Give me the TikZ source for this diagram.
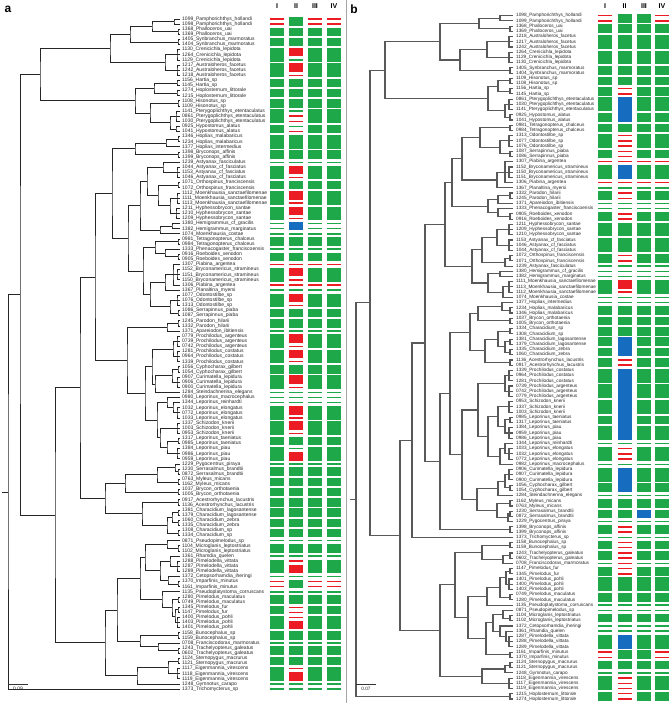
\documentclass[tikz,border=0pt]{standalone}
\usepackage{fontspec}
\setmainfont{Liberation Sans}
\usetikzlibrary{calc}
\definecolor{cG}{RGB}{30,168,74}
\definecolor{cR}{RGB}{236,28,36}
\definecolor{cU}{RGB}{22,108,190}
\newcount\rcnt
\newcommand\clade[4]{\coordinate (#1) at ($(#2,0 |- #3)!0.5!(#2,0 |- #4)$);\draw[tree] (#3) -| (#1) |- (#4);}
\newcommand\cladem[5]{\clade{#1}{#2}{#3}{#4}\foreach \mm in {#5}{\draw[tree] (#1 |- \mm) -- (\mm);}}
\newcommand\bars[4]{\global\rcnt=0\relax
 \foreach \ty/\co/\nn in #4{%
  \if\ty B\fill[c\co] (#1,{#2+(\the\rcnt-0.5)*#3+0.9}) rectangle ++(14,{\nn*#3-1.8});%
  \else\foreach \kk in {1,...,\nn}{\fill[c\co] (#1,{#2+(\the\rcnt+\kk-1)*#3-0.7}) rectangle ++(14,1.4);}\fi
  \global\advance\rcnt by \nn\relax}}
\def\aI{L/R/2,B/G/2,B/G/2,B/G/3,B/G/3,B/G/2,B/G/2,B/G/2,B/G/3,B/G/2,B/G/3,B/G/2,L/G/1,B/G/3,B/G/2,B/G/3,B/G/3,L/G/3,B/G/2,L/G/1,B/G/2,L/R/1,B/G/3,L/R/1,L/G/1,B/G/3,B/G/2,B/G/2,L/G/1,B/G/3,B/G/3,B/G/2,B/G/3,L/G/3,B/G/3,B/G/3,B/G/2,B/G/3,L/G/1,B/G/2,B/G/2,B/G/2,B/G/2,B/G/2,B/G/2,B/G/2,L/G/1,B/G/2,L/G/1,B/G/3,L/G/1,L/R/2,L/G/1,B/G/2,B/G/2,B/G/3,B/G/2,L/G/1,B/G/2,B/G/2,B/G/3,L/G/2}
\def\aII{B/G/2,B/G/2,B/G/2,B/R/2,L/G/1,B/R/2,L/R/1,B/G/2,B/G/2,B/G/2,L/G/1,L/R/2,L/G/1,L/R/1,B/G/3,B/G/2,L/G/1,B/R/2,L/R/1,B/G/2,B/R/2,L/R/1,B/R/2,L/R/1,B/U/2,L/G/1,B/G/2,L/G/1,B/G/2,L/R/1,B/R/2,L/R/1,L/R/1,L/G/1,B/R/2,L/R/1,B/G/2,B/G/2,L/G/1,B/R/2,L/R/1,B/R/2,L/R/1,B/G/2,B/R/2,L/R/1,L/G/3,B/R/2,L/R/1,B/R/2,L/R/1,B/G/2,L/G/1,B/R/2,L/G/1,B/G/2,B/G/2,B/G/2,B/G/2,B/G/2,B/G/2,B/G/2,L/G/1,B/G/2,L/G/1,L/R/1,B/R/2,L/G/1,B/G/2,L/G/1,B/G/2,L/R/2,L/R/1,B/R/2,B/G/2,L/G/1,B/G/2,B/G/2,L/R/1,B/R/2,L/G/2}
\def\bI{L/R/2,B/G/2,B/G/3,B/G/3,B/G/2,B/G/2,B/G/2,B/G/3,B/G/2,B/G/2,B/G/3,B/G/2,L/R/1,B/G/3,L/R/1,L/G/1,B/G/2,L/G/2,B/G/2,B/G/3,B/G/3,B/G/2,L/G/3,B/G/3,L/G/2,B/G/2,B/G/2,B/G/2,B/G/2,B/G/2,B/G/2,B/G/3,B/G/3,B/G/3,B/G/2,B/G/3,L/G/1,B/G/3,L/G/1,B/G/3,B/G/2,L/G/1,B/G/2,B/G/2,L/G/1,B/G/2,L/G/1,B/G/2,B/G/2,L/G/1,B/G/2,B/G/3,B/G/2,L/G/2,B/G/2,L/G/2,B/G/3,L/R/2,B/G/2,L/G/1,B/G/3,B/G/2}
\def\bII{B/G/2,B/G/2,B/G/3,B/G/3,B/G/2,B/G/2,L/R/2,B/U/5,B/G/2,L/R/3,L/R/2,L/R/1,B/U/3,L/R/1,L/G/1,L/R/2,L/G/2,L/R/2,B/G/3,B/G/3,L/R/2,L/G/3,B/R/2,L/R/1,L/G/2,B/G/2,B/G/2,B/G/2,B/U/4,L/R/2,B/U/14,L/G/1,L/R/3,L/G/1,B/U/5,L/G/1,B/G/2,B/G/2,L/G/1,L/R/2,L/G/1,L/R/2,L/R/2,L/R/1,L/R/2,B/G/3,B/G/2,L/G/2,B/G/2,L/G/2,B/U/3,B/G/2,B/G/2,L/G/1,L/R/3,L/R/2}
\def\bIII{B/G/2,B/G/2,B/G/3,B/G/3,B/G/2,B/G/2,B/G/2,B/G/3,B/G/2,B/G/2,B/G/3,B/G/2,L/R/1,B/G/3,L/R/1,L/G/1,B/G/2,L/G/2,B/G/2,B/G/3,B/G/3,B/G/2,L/G/3,B/G/3,L/G/2,B/G/2,B/G/2,B/G/2,B/G/2,B/G/2,B/G/2,B/G/3,B/G/3,B/G/3,B/G/2,B/G/3,L/G/1,B/G/3,L/G/1,B/G/3,B/G/2,L/G/1,B/G/2,B/U/2,L/G/1,B/G/2,L/G/1,B/G/2,B/G/2,L/G/1,B/G/2,B/G/3,B/G/2,L/G/2,B/G/2,L/G/2,B/G/3,B/G/2,B/G/2,L/G/1,B/G/3,B/G/2}
\begin{document}
\catcode`\_=12
\begin{tikzpicture}[x=1pt,y=-1pt,
  laba/.style={anchor=west,inner sep=0pt,text=black!85,font=\fontsize{5}{5}\selectfont},
  labb/.style={anchor=west,inner sep=0pt,text=black!85,font=\fontsize{4.7}{5}\selectfont},
  hdr/.style={inner sep=0pt,font=\bfseries\fontsize{7}{7}\selectfont},
  pnl/.style={inner sep=0pt,font=\bfseries\fontsize{12}{12}\selectfont}]
\useasboundingbox (0,0) rectangle (671,703);
\fill[white] (0,0) rectangle (671,703);
\draw[black!35,line width=0.6pt] (346,0) -- (346,703);
\foreach \i in {1,...,132}{\coordinate (a\i) at (180,{19+(\i-1)*5.115});\coordinate (b\i) at (513,{15.7+(\i-1)*5.216});}
% panel letters and headers
\node[pnl] (pa) at (8,9) {a};
\node[pnl] (pb) at (354,9) {b};
\foreach \t/\x in {I/277,II/296,III/315,IV/334}{\node[hdr] at (\x,6) {\t};}
\foreach \t/\x in {I/605,II/624.5,III/644,IV/662}{\node[hdr] at (\x,6) {\t};}
% ---------- panel a tree
\begin{scope}[tree/.style={draw=black!85,line width=0.8pt}]
\clade{A1}{174}{a1}{a2}\clade{A2}{178}{a3}{a4}\clade{A3}{152}{A1}{A2}\clade{A4}{178}{a5}{a6}
\clade{A5}{130}{A3}{A4}\cladem{A6}{177}{a7}{a9}{a8}\cladem{A7}{177}{a10}{a12}{a11}\clade{A8}{165}{A6}{A7}
\clade{A9}{110}{A5}{A8}
\clade{B1}{177}{a13}{a14}\clade{B2}{177}{a15}{a16}\clade{B3}{154}{B1}{B2}\clade{B4}{178}{a17}{a18}
\cladem{B5}{176}{a19}{a21}{a20}\clade{B6}{176}{a22}{a23}\clade{B7}{170}{B5}{B6}\clade{B8}{150}{B4}{B7}\clade{B9}{135}{B3}{B8}
\clade{C1}{178}{a24}{a25}\clade{C2}{166}{C1}{a26}\clade{C3}{178}{a27}{a28}\clade{C4}{135}{C2}{C3}
\cladem{D1}{177}{a30}{a32}{a31}\clade{D2}{163}{a29}{D1}\clade{D3}{178}{a33}{a34}\cladem{D4}{177}{a35}{a37}{a36}
\cladem{D5}{176}{a38}{a40}{a39}\clade{D6}{170}{D4}{D5}\clade{D7}{158}{D3}{D6}\clade{D8}{147}{D2}{D7}
\clade{D9}{172}{a41}{a42}\clade{D10}{160}{D9}{a43}\clade{D11}{140}{D8}{D10}
\clade{E1}{178}{a44}{a45}\clade{E2}{178}{a47}{a48}\clade{E3}{165}{a46}{E2}\clade{E4}{155}{E1}{E3}
\cladem{E5}{177}{a50}{a52}{a51}\cladem{E6}{173}{a49}{a53}{E5}\clade{E7}{165}{E6}{a54}
\cladem{E8}{177}{a55}{a57}{a56}\clade{E9}{178}{a58}{a59}\clade{E10}{170}{E8}{E9}\clade{E11}{150}{E7}{E10}
\clade{E12}{143}{E4}{E11}\clade{E13}{128}{D11}{E12}\clade{E14}{112}{C4}{E13}
\clade{F1}{178}{a60}{a61}\clade{F2}{167}{F1}{a62}\cladem{F3}{177}{a63}{a65}{a64}\cladem{F4}{177}{a66}{a68}{a67}
\clade{F5}{173}{F3}{F4}\clade{F6}{178}{a69}{a70}\cladem{F7}{177}{a71}{a73}{a72}\clade{F8}{172}{F6}{F7}
\clade{F9}{155}{F8}{a74}\clade{F10}{152}{F5}{F9}\cladem{F11}{177}{a77}{a79}{a78}\clade{F12}{173}{a76}{F11}
\clade{F13}{167}{a75}{F12}\cladem{F14}{177}{a80}{a82}{a81}\clade{F15}{178}{a83}{a84}\cladem{F16}{177}{a85}{a87}{a86}
\clade{F17}{167}{F15}{F16}\clade{F18}{160}{F14}{F17}\clade{F19}{157}{F13}{F18}\clade{F20}{145}{F10}{F19}\clade{F21}{127}{F2}{F20}
\clade{G1}{178}{a89}{a90}\clade{G2}{175}{a88}{G1}\clade{G3}{178}{a91}{a92}\clade{G4}{157}{G2}{G3}
\clade{G5}{178}{a93}{a94}\clade{G6}{125}{G4}{G5}\clade{G7}{178}{a95}{a96}\clade{G8}{178}{a97}{a98}
\clade{G9}{178}{a99}{a100}\clade{G10}{178}{a101}{a102}\clade{G11}{172}{G8}{G9}\clade{G12}{167}{G11}{G10}
\clade{G13}{142}{G7}{G12}\clade{G14}{105}{G6}{G13}
\clade{H1}{95}{E14}{F21}\clade{H2}{80}{H1}{G14}
\clade{I1}{178}{a104}{a105}\clade{I2}{167}{a103}{I1}\cladem{I3}{177}{a107}{a109}{a108}\clade{I4}{170}{a106}{I3}
\clade{I5}{178}{a111}{a112}\clade{I6}{168}{a110}{I5}\clade{I7}{160}{I4}{I6}\clade{I8}{145}{I2}{I7}
\clade{I9}{178}{a114}{a115}\clade{I10}{178}{a116}{a117}\cladem{I11}{177}{a118}{a120}{a119}\clade{I12}{175}{I10}{I11}
\clade{I13}{172}{I9}{I12}\clade{I14}{162}{a113}{I13}\clade{I15}{140}{I8}{I14}
\clade{I16}{178}{a121}{a122}\clade{I17}{178}{a124}{a125}\clade{I18}{158}{a123}{I17}\clade{I19}{140}{I16}{I18}
\clade{I20}{117}{I15}{I19}
\clade{J1}{178}{a126}{a127}\cladem{J2}{177}{a128}{a130}{a129}\clade{J3}{168}{J1}{J2}\clade{J4}{137}{J3}{a131}
\clade{J5}{105}{I20}{J4}
\clade{K1}{40}{A9}{B9}\clade{K2}{55}{H2}{J5}\clade{K3}{20}{K1}{K2}\clade{K4}{8}{K3}{a132}
\coordinate (Ka) at (2,0 |- K4);
\draw[tree] (K4) -- (Ka);
\end{scope}
% ---------- panel b tree
\begin{scope}[tree/.style={draw=black!65,line width=1.1pt}]
\clade{P1}{500}{b1}{b2}\clade{P2}{510}{b3}{b4}\clade{P3}{479}{P1}{P2}\cladem{P4}{509}{b5}{b7}{b6}
\cladem{P5}{509}{b8}{b10}{b9}\clade{P6}{487}{P4}{P5}\clade{P7}{510}{b11}{b12}\clade{P8}{460}{P6}{P7}\clade{P9}{440}{P3}{P8}
\clade{Q1}{510}{b13}{b14}\clade{Q2}{510}{b15}{b16}\clade{Q3}{498}{Q1}{Q2}\cladem{Q4}{509}{b17}{b19}{b18}
\clade{Q5}{510}{b20}{b21}\clade{Q6}{505}{Q4}{Q5}\clade{Q7}{488}{Q3}{Q6}
\clade{R1}{510}{b22}{b23}\cladem{R2}{509}{b24}{b26}{b25}\clade{R3}{510}{b27}{b28}\clade{R4}{500}{R2}{R3}
\clade{R5}{480}{R1}{R4}\cladem{R6}{509}{b30}{b32}{b31}\cladem{R7}{505}{b29}{b33}{R6}\clade{R8}{497}{R7}{b34}
\clade{R9}{462}{R5}{R8}\clade{R10}{510}{b35}{b36}\clade{R11}{498}{R10}{b37}\clade{R12}{510}{b39}{b40}
\clade{R13}{498}{b38}{R12}\clade{R14}{488}{R11}{R13}\clade{R15}{452}{R9}{R14}
\cladem{R16}{509}{b41}{b43}{b42}\cladem{R17}{509}{b44}{b46}{b45}\clade{R18}{497}{R16}{R17}
\clade{R19}{510}{b47}{b48}\clade{R20}{505}{R19}{b49}\clade{R21}{482}{R18}{R20}\clade{R22}{500}{b50}{b51}
\cladem{R23}{509}{b52}{b54}{b53}\clade{R24}{503}{R23}{b55}\clade{R25}{488}{R22}{R24}\clade{R26}{472}{R21}{R25}
\clade{R27}{445}{R15}{R26}
\clade{S1}{510}{b57}{b58}\clade{S2}{502}{b56}{S1}\clade{S3}{510}{b59}{b60}\clade{S4}{478}{S2}{S3}
\clade{S5}{510}{b61}{b62}\clade{S6}{510}{b63}{b64}\clade{S7}{510}{b65}{b66}\clade{S8}{505}{S6}{S7}
\clade{S9}{498}{S5}{S8}\clade{S11}{510}{b67}{b68}\clade{S12}{485}{S9}{S11}\clade{S10}{470}{S4}{S12}
\cladem{T1}{509}{b69}{b71}{b70}\cladem{T2}{509}{b72}{b74}{b73}\clade{T3}{505}{T1}{T2}
\cladem{T4}{509}{b75}{b77}{b76}\clade{T5}{510}{b78}{b79}\cladem{T6}{509}{b80}{b82}{b81}\clade{T7}{505}{T5}{T6}
\clade{T8}{498}{T4}{T7}\cladem{T9}{509}{b84}{b86}{b85}\clade{T10}{505}{b83}{T9}\clade{T11}{500}{T10}{b87}
\clade{T12}{488}{T8}{T11}\clade{T13}{478}{T3}{T12}
\cladem{T14}{509}{b88}{b90}{b89}\clade{T15}{510}{b91}{b92}\clade{T16}{505}{T14}{T15}\clade{T17}{498}{T16}{b93}
\clade{T18}{510}{b94}{b95}\clade{T19}{510}{b96}{b97}\clade{T20}{508}{T19}{b98}\clade{T21}{497}{T18}{T20}
\clade{T22}{477}{T17}{T21}\clade{T23}{462}{T13}{T22}\clade{T24}{450}{S10}{T23}
\clade{T25}{510}{b99}{b100}\clade{T26}{440}{T24}{T25}
\clade{X1}{425}{R27}{T26}\clade{X2}{412}{X1}{b101}
\clade{U1}{510}{b102}{b103}\clade{U2}{510}{b104}{b105}\clade{U3}{503}{U2}{b106}\clade{U4}{482}{U1}{U3}
\clade{U5}{510}{b107}{b108}\cladem{U6}{509}{b109}{b111}{b110}\clade{U7}{506}{U5}{U6}\clade{U8}{510}{b112}{b113}
\clade{U9}{500}{U7}{U8}\clade{U10}{487}{U9}{b114}\clade{U11}{510}{b116}{b117}\clade{U12}{503}{b115}{U11}
\cladem{U13}{509}{b120}{b122}{b121}\clade{U14}{506}{b119}{U13}\clade{U15}{500}{b118}{U14}\clade{U16}{493}{U12}{U15}
\clade{U17}{510}{b123}{b124}\clade{U18}{486}{U16}{U17}\clade{U19}{468}{U10}{U18}\clade{U20}{455}{U4}{U19}
\clade{V1}{510}{b125}{b126}\clade{V2}{505}{V1}{b127}\cladem{V3}{509}{b128}{b130}{b129}\clade{V4}{482}{V2}{V3}
\clade{V5}{440}{U20}{V4}
\clade{X3}{400}{X2}{V5}
\clade{Y1}{385}{P9}{Q7}\clade{Y2}{370}{Y1}{X3}\clade{Q8}{510}{b131}{b132}\clade{Y3}{356}{Y2}{Q8}
\coordinate (Yb) at (350,0 |- Y3);
\draw[tree] (Y3) -- (Yb);
\end{scope}
% ---------- scale bars
\coordinate (sa1) at (8,684);\coordinate (sa2) at (28,684);
\draw[black!80,line width=0.6pt] (sa1) -- (sa2);
\node[laba,anchor=north] (sal) at (18,687) {0.09};
\coordinate (sb1) at (356,684);\coordinate (sb2) at (376,684);
\draw[black!80,line width=0.6pt] (sb1) -- (sb2);
\node[labb,anchor=north] (sbl) at (366,687) {0.07};
% ---------- labels
\foreach \s [count=\i] in {1099_Pamphorichthys_hollandi,1098_Pamphorichthys_hollandi,1368_Phalloceros_uai,1369_Phalloceros_uai,1405_Synbranchus_marmoratus,1404_Synbranchus_marmoratus,1130_Crenicichla_lepidota,1264_Crenicichla_lepidota,1129_Crenicichla_lepidota,1217_Australoheros_facetus,1242_Australoheros_facetus,1218_Australoheros_facetus,1156_Hartia_sp,1145_Hartia_sp,1274_Hoplosternum_littorale,1215_Hoplosternum_littorale,1108_Hisonotus_sp,1109_Hisonotus_sp,1141_Pterygoplichthys_etentaculatus,0861_Pterygoplichthys_etentaculatus,1030_Pterygoplichthys_etentaculatus,0925_Hypostomus_alatus,1041_Hypostomus_alatus,1346_Hoplias_malabaricus,1234_Hoplias_malabaricus,1377_Hoplias_intermedius,1398_Bryconops_affinis,1399_Bryconops_affinis,1239_Astyanax_fasciculatus,1044_Astyanax_cf_fasciatus,1153_Astyanax_cf_fasciatus,1046_Astyanax_cf_fasciatus,1071_Orthospinus_franciscensis,1072_Orthospinus_franciscensis,1112_Moenkhausia_sanctaefilomenae,1111_Moenkhausia_sanctaefilomenae,1113_Moenkhausia_sanctaefilomenae,1211_Hyphessobrycon_santae,1210_Hyphessobrycon_santae,1209_Hyphessobrycon_santae,1380_Hemigrammus_cf_gracilis,1382_Hemigrammus_marginatus,1074_Moenkhausia_costae,0981_Tetragonopterus_chalceus,0984_Tetragonopterus_chalceus,1333_Phenacogaster_franciscoensis,0916_Roeboides_xenodon,0905_Roeboides_xenodon,1307_Piabina_argentea,1152_Bryconamericus_stramineus,1151_Bryconamericus_stramineus,1150_Bryconamericus_stramineus,1306_Piabina_argentea,1367_Planaltina_myersi,1077_Odontostilbe_sp,1076_Odontostilbe_sp,1313_Odontostilbe_sp,1086_Serrapinnus_piaba,1087_Serrapinnus_piaba,1245_Parodon_hilarii,1332_Parodon_hilarii,1371_Apareiodon_ibitiensis,0779_Prochilodus_argenteus,0739_Prochilodus_argenteus,0742_Prochilodus_argenteus,1281_Prochilodus_costatus,0964_Prochilodus_costatus,1339_Prochilodus_costatus,1056_Cyphocharax_gilbert,1054_Cyphocharax_gilbert,0907_Curimatella_lepidura,0906_Curimatella_lepidura,0900_Curimatella_lepidura,1284_Steindachnerina_elegans,0980_Leporinus_macrocephalus,1344_Leporinus_reinhardti,1032_Leporinus_elongatus,0772_Leporinus_elongatus,1033_Leporinus_elongatus,1337_Schizodon_knerii,1003_Schizodon_knerii,0953_Schizodon_knerii,1317_Leporinus_taeniatus,0985_Leporinus_taeniatus,1384_Leporinus_piau,0986_Leporinus_piau,0959_Leporinus_piau,1229_Pygocentrus_piraya,1230_Serrasalmus_brandtii,0872_Serrasalmus_brandtii,0763_Myleus_micans,1162_Myleus_micans,1037_Brycon_orthotaenia,1005_Brycon_orthotaenia,0917_Acestrorhynchus_lacustris,1136_Acestrorhynchus_lacustris,1381_Characidium_lagosantense,1379_Characidium_lagosantense,1060_Characidium_zebra,1335_Characidium_zebra,1308_Characidium_sp,1334_Characidium_sp,0871_Pseudopimelodus_sp,1104_Microglanis_leptostriatus,1102_Microglanis_leptostriatus,1361_Rhamdia_quelen,1288_Pimelodella_vittata,1287_Pimelodella_vittata,1289_Pimelodella_vittata,1372_Cetopsorhamdia_iheringi,1370_Imparfinis_minutus,1161_Imparfinis_minutus,1135_Pseudoplatystoma_corruscans,1280_Pimelodus_maculatus,0749_Pimelodus_maculatus,1345_Pimelodus_fur,1147_Pimelodus_fur,1400_Pimelodus_pohli,1403_Pimelodus_pohli,1401_Pimelodus_pohli,1158_Bunocephalus_sp,1159_Bunocephalus_sp,0708_Franciscodoras_marmoratus,1243_Trachelyopterus_galeatus,0602_Trachelyopterus_galeatus,1124_Sternopygus_macrurus,1121_Sternopygus_macrurus,1117_Eigenmannia_virescens,1118_Eigenmannia_virescens,1119_Eigenmannia_virescens,1248_Gymnotus_carapo,1373_Trichomycterus_sp}{\node[laba] (la\i) at (182,{19+(\i-1)*5.115}) {\s};}
\foreach \s [count=\i] in {1098_Pamphorichthys_hollandi,1099_Pamphorichthys_hollandi,1368_Phalloceros_uai,1369_Phalloceros_uai,1218_Australoheros_facetus,1217_Australoheros_facetus,1242_Australoheros_facetus,1264_Crenicichla_lepidota,1129_Crenicichla_lepidota,1130_Crenicichla_lepidota,1405_Synbranchus_marmoratus,1404_Synbranchus_marmoratus,1109_Hisonotus_sp,1108_Hisonotus_sp,1156_Hartia_sp,1145_Hartia_sp,0861_Pterygoplichthys_etentaculatus,1030_Pterygoplichthys_etentaculatus,1141_Pterygoplichthys_etentaculatus,0925_Hypostomus_alatus,1041_Hypostomus_alatus,0981_Tetragonopterus_chalceus,0984_Tetragonopterus_chalceus,1313_Odontostilbe_sp,1077_Odontostilbe_sp,1076_Odontostilbe_sp,1087_Serrapinnus_piaba,1086_Serrapinnus_piaba,1307_Piabina_argentea,1152_Bryconamericus_stramineus,1150_Bryconamericus_stramineus,1151_Bryconamericus_stramineus,1306_Piabina_argentea,1367_Planaltina_myersi,1332_Parodon_hilarii,1245_Parodon_hilarii,1371_Apareiodon_ibitiensis,1333_Phenacogaster_franciscoensis,0905_Roeboides_xenodon,0916_Roeboides_xenodon,1211_Hyphessobrycon_santae,1209_Hyphessobrycon_santae,1210_Hyphessobrycon_santae,1153_Astyanax_cf_fasciatus,1046_Astyanax_cf_fasciatus,1044_Astyanax_cf_fasciatus,1072_Orthospinus_franciscensis,1071_Orthospinus_franciscensis,1239_Astyanax_fasciculatus,1380_Hemigrammus_cf_gracilis,1382_Hemigrammus_marginatus,1111_Moenkhausia_sanctaefilomenae,1113_Moenkhausia_sanctaefilomenae,1112_Moenkhausia_sanctaefilomenae,1074_Moenkhausia_costae,1377_Hoplias_intermedius,1234_Hoplias_malabaricus,1346_Hoplias_malabaricus,1037_Brycon_orthotaenia,1005_Brycon_orthotaenia,1334_Characidium_sp,1308_Characidium_sp,1381_Characidium_lagosantense,1379_Characidium_lagosantense,1335_Characidium_zebra,1060_Characidium_zebra,1136_Acestrorhynchus_lacustris,0917_Acestrorhynchus_lacustris,1339_Prochilodus_costatus,0964_Prochilodus_costatus,1281_Prochilodus_costatus,0739_Prochilodus_argenteus,0742_Prochilodus_argenteus,0779_Prochilodus_argenteus,0953_Schizodon_knerii,1337_Schizodon_knerii,1003_Schizodon_knerii,0985_Leporinus_taeniatus,1317_Leporinus_taeniatus,1384_Leporinus_piau,0959_Leporinus_piau,0986_Leporinus_piau,1344_Leporinus_reinhardti,1033_Leporinus_elongatus,1032_Leporinus_elongatus,0772_Leporinus_elongatus,0982_Leporinus_macrocephalus,0906_Curimatella_lepidura,0907_Curimatella_lepidura,0900_Curimatella_lepidura,1056_Cyphocharax_gilbert,1054_Cyphocharax_gilbert,1284_Steindachnerina_elegans,1162_Myleus_micans,0763_Myleus_micans,1230_Serrasalmus_brandtii,0872_Serrasalmus_brandtii,1229_Pygocentrus_piraya,1398_Bryconops_affinis,1399_Bryconops_affinis,1373_Trichomycterus_sp,1158_Bunocephalus_sp,1159_Bunocephalus_sp,1243_Trachelyopterus_galeatus,0602_Trachelyopterus_galeatus,0708_Franciscodoras_marmoratus,1147_Pimelodus_fur,1345_Pimelodus_fur,1401_Pimelodus_pohli,1400_Pimelodus_pohli,1403_Pimelodus_pohli,0749_Pimelodus_maculatus,1280_Pimelodus_maculatus,1135_Pseudoplatystoma_corruscans,0871_Pseudopimelodus_sp,1104_Microglanis_leptostriatus,1102_Microglanis_leptostriatus,1372_Cetopsorhamdia_iheringi,1361_Rhamdia_quelen,1287_Pimelodella_vittata,1288_Pimelodella_vittata,1289_Pimelodella_vittata,1161_Imparfinis_minutus,1370_Imparfinis_minutus,1124_Sternopygus_macrurus,1121_Sternopygus_macrurus,1248_Gymnotus_carapo,1118_Eigenmannia_virescens,1117_Eigenmannia_virescens,1119_Eigenmannia_virescens,1215_Hoplosternum_littorale,1274_Hoplosternum_littorale}{\node[labb] (lb\i) at (516,{15.7+(\i-1)*5.216}) {\s};}
% ---------- bars
\bars{270}{19}{5.115}{\aI}
\bars{289}{19}{5.115}{\aII}
\bars{308}{19}{5.115}{\aI}
\bars{327}{19}{5.115}{\aI}
\bars{598}{15.7}{5.216}{\bI}
\bars{617.5}{15.7}{5.216}{\bII}
\bars{637}{15.7}{5.216}{\bIII}
\bars{655}{15.7}{5.216}{\bI}
\end{tikzpicture}
\end{document}
